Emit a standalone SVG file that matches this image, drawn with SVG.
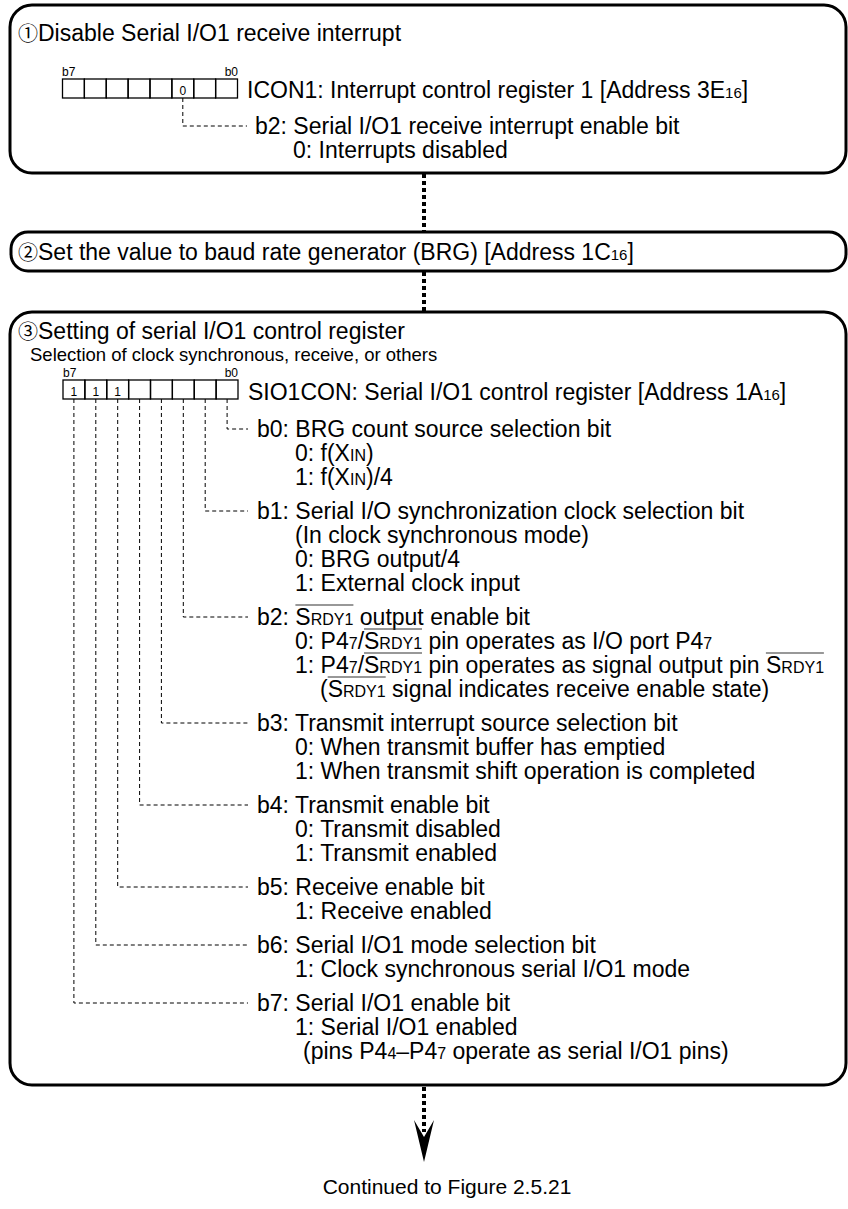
<svg xmlns="http://www.w3.org/2000/svg" width="848" height="1209" viewBox="0 0 848 1209">
<style>
.box{fill:#fff;stroke:#000;stroke-width:3}
text{font-family:"Liberation Sans",Arial,"Noto Sans CJK JP",sans-serif;font-size:23px;fill:#000}
.h{font-size:23px}
.cn{font-size:20px}
.sel{font-size:18.5px}
.lb{font-size:12px}
.ft{font-size:21px}
.c{fill:none;stroke:#000;stroke-width:1.3}
.d{fill:none;stroke:#000;stroke-width:1;stroke-dasharray:4 3}
.dot{fill:none;stroke:#000;stroke-width:4;stroke-dasharray:4 3}
.sm{font-size:16px}
.sub{font-size:15px}
.ol{stroke:#333;stroke-width:1.2}
</style>
<defs>
<g id="reg">
<rect class="c" x="0" y="0" width="21.875" height="19"/>
<rect class="c" x="21.875" y="0" width="21.875" height="19"/>
<rect class="c" x="43.75" y="0" width="21.875" height="19"/>
<rect class="c" x="65.625" y="0" width="21.875" height="19"/>
<rect class="c" x="87.5" y="0" width="21.875" height="19"/>
<rect class="c" x="109.375" y="0" width="21.875" height="19"/>
<rect class="c" x="131.25" y="0" width="21.875" height="19"/>
<rect class="c" x="153.125" y="0" width="21.875" height="19"/>
</g>
</defs>

<g id="connectors">
<line class="dot" x1="424" y1="174" x2="424" y2="232"/>
<line class="dot" x1="424" y1="272" x2="424" y2="312"/>
<line class="dot" x1="424" y1="1087" x2="424" y2="1132"/>
<path d="M424,1162 L414,1120 L424,1137 L434,1120 Z" fill="#000"/>
</g>

<g id="step1">
<rect class="box" x="10" y="5" width="836" height="168" rx="22"/>
<text class="h" x="18" y="41"><tspan class="cn">①</tspan>Disable Serial I/O1 receive interrupt</text>
<text class="lb" x="62" y="76">b7</text>
<text class="lb" x="238" y="76" text-anchor="end">b0</text>
<use href="#reg" x="62.5" y="79"/>
<text class="lb" x="182.8" y="95" text-anchor="middle">0</text>
<text x="247" y="98">ICON1: Interrupt control register 1 [Address 3E<tspan class="sub">16</tspan>]</text>
<path class="d" d="M182.8,98 V126 H247"/>
<text x="255" y="134">b2: Serial I/O1 receive interrupt enable bit</text>
<text x="293" y="158">0: Interrupts disabled</text>
</g>

<g id="step2">
<rect class="box" x="11" y="232" width="835" height="39" rx="17"/>
<text class="h" x="18" y="260"><tspan class="cn">②</tspan>Set the value to baud rate generator (BRG) [Address 1C<tspan class="sub">16</tspan>]</text>
</g>

<g id="step3">
<rect class="box" x="10" y="312" width="836" height="773" rx="22"/>
<text class="h" x="18" y="339"><tspan class="cn">③</tspan>Setting of serial I/O1 control register</text>
<text class="sel" x="30" y="361">Selection of clock synchronous, receive, or others</text>
<text class="lb" x="63" y="377">b7</text>
<text class="lb" x="238" y="377" text-anchor="end">b0</text>
<use href="#reg" x="63" y="380"/>
<text class="lb" x="73.9" y="396" text-anchor="middle">1</text>
<text class="lb" x="95.8" y="396" text-anchor="middle">1</text>
<text class="lb" x="117.7" y="396" text-anchor="middle">1</text>
<text x="248" y="400">SIO1CON: Serial I/O1 control register [Address 1A<tspan class="sub">16</tspan>]</text>

<path class="d" d="M227.1,399 V429 H248"/>
<path class="d" d="M205.2,399 V511 H248"/>
<path class="d" d="M183.3,399 V617 H248"/>
<path class="d" d="M161.4,399 V723 H248"/>
<path class="d" d="M139.6,399 V805 H248"/>
<path class="d" d="M117.7,399 V887 H248"/>
<path class="d" d="M95.8,399 V945 H248"/>
<path class="d" d="M73.9,399 V1003 H248"/>

<text x="257" y="437">b0: BRG count source selection bit</text>
<text x="295" y="461">0: f(X<tspan class="sm">IN</tspan>)</text>
<text x="295" y="485">1: f(X<tspan class="sm">IN</tspan>)/4</text>

<text x="257" y="519">b1: Serial I/O synchronization clock selection bit</text>
<text x="295" y="543">(In clock synchronous mode)</text>
<text x="295" y="567">0: BRG output/4</text>
<text x="295" y="591">1: External clock input</text>

<text x="257" y="625">b2: S<tspan class="sm">RDY1</tspan> output enable bit</text>
<text x="295" y="649">0: P4<tspan class="sm">7</tspan>/S<tspan class="sm">RDY1</tspan> pin operates as I/O port P4<tspan class="sm">7</tspan></text>
<text x="295" y="673">1: P4<tspan class="sm">7</tspan>/S<tspan class="sm">RDY1</tspan> pin operates as signal output pin S<tspan class="sm">RDY1</tspan></text>
<text x="320" y="697">(S<tspan class="sm">RDY1</tspan> signal indicates receive enable state)</text>
<line class="ol" x1="295.4" y1="605" x2="353.4" y2="605"/>
<line class="ol" x1="364" y1="629" x2="422" y2="629"/>
<line class="ol" x1="364" y1="653" x2="422" y2="653"/>
<line class="ol" x1="765.9" y1="653" x2="823.9" y2="653"/>
<line class="ol" x1="327.7" y1="677" x2="385.7" y2="677"/>

<text x="257" y="731">b3: Transmit interrupt source selection bit</text>
<text x="295" y="755">0: When transmit buffer has emptied</text>
<text x="295" y="779">1: When transmit shift operation is completed</text>

<text x="257" y="813">b4: Transmit enable bit</text>
<text x="295" y="837">0: Transmit disabled</text>
<text x="295" y="861">1: Transmit enabled</text>

<text x="257" y="895">b5: Receive enable bit</text>
<text x="295" y="919">1: Receive enabled</text>

<text x="257" y="953">b6: Serial I/O1 mode selection bit</text>
<text x="295" y="977">1: Clock synchronous serial I/O1 mode</text>

<text x="257" y="1011">b7: Serial I/O1 enable bit</text>
<text x="295" y="1035">1: Serial I/O1 enabled</text>
<text x="303" y="1059">(pins P4<tspan class="sm">4</tspan>–P4<tspan class="sm">7</tspan> operate as serial I/O1 pins)</text>
</g>

<g id="footer">
<text class="ft" x="447" y="1194" text-anchor="middle">Continued to Figure 2.5.21</text>
</g>
</svg>
